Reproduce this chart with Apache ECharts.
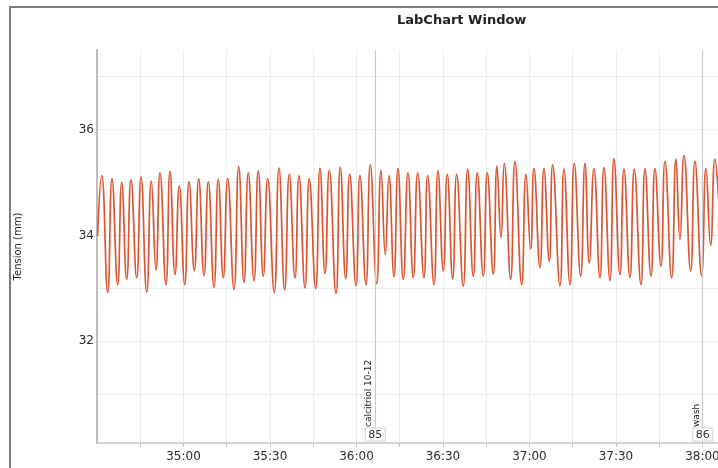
<!DOCTYPE html>
<html>
<head>
<meta charset="utf-8">
<script src="https://cdn.jsdelivr.net/npm/echarts@6/dist/echarts.min.js"></script>
<style>
  html, body { margin: 0; padding: 0; background: #fff; }
  #chart { width: 718px; height: 468px; }
</style>
</head>
<body>
<div id="chart"></div>
<script>
// Tension trace (mm) against recording time (s): alternating contraction peaks and troughs
const peakTimes = [2071.63, 2075.20, 2078.57, 2081.79, 2085.26, 2088.83, 2091.85, 2095.32, 2098.54, 2101.91,
  2105.27, 2108.60, 2112.07, 2115.33, 2119.15, 2122.47, 2125.94, 2129.20, 2133.12, 2136.69,
  2140.06, 2143.63, 2147.34, 2150.57, 2154.38, 2157.64, 2161.21, 2164.79, 2168.50, 2171.27,
  2174.39, 2177.86, 2181.23, 2184.70, 2188.27, 2191.49, 2194.75, 2198.57, 2201.90, 2205.37,
  2208.73, 2211.26, 2214.97, 2218.79, 2221.56, 2225.03, 2228.05, 2231.97, 2235.54, 2239.25,
  2242.37, 2245.84, 2249.31, 2252.78, 2256.35, 2260.06, 2263.53, 2267.00, 2270.81, 2273.59,
  2277.40, 2281.22, 2284.34];
const peakValues = [35.13, 35.07, 35.00, 35.05, 35.10, 35.03, 35.18, 35.21, 34.93, 35.01,
  35.07, 35.01, 35.06, 35.07, 35.30, 35.18, 35.22, 35.07, 35.27, 35.15,
  35.13, 35.07, 35.27, 35.23, 35.29, 35.15, 35.13, 35.33, 35.23, 35.13,
  35.26, 35.18, 35.18, 35.13, 35.22, 35.15, 35.15, 35.25, 35.18, 35.18,
  35.31, 35.36, 35.40, 35.15, 35.26, 35.26, 35.33, 35.25, 35.36, 35.36,
  35.26, 35.28, 35.45, 35.25, 35.25, 35.26, 35.26, 35.40, 35.44, 35.51,
  35.40, 35.26, 35.44];
const troughTimes = [2073.71, 2077.18, 2080.30, 2083.77, 2087.24, 2090.46, 2093.93, 2097.05, 2100.42, 2103.75,
  2107.11, 2110.58, 2113.80, 2117.51, 2120.98, 2124.45, 2127.68, 2131.49, 2135.10, 2138.67,
  2142.14, 2145.85, 2149.08, 2152.89, 2156.26, 2159.83, 2163.30, 2167.01, 2169.99, 2173.01,
  2176.23, 2179.70, 2183.41, 2186.88, 2190.11, 2193.37, 2197.04, 2200.51, 2203.98, 2207.45,
  2210.12, 2213.48, 2217.30, 2220.42, 2223.64, 2226.87, 2230.58, 2234.05, 2237.76, 2240.74,
  2244.45, 2247.92, 2251.39, 2254.86, 2258.67, 2262.14, 2265.61, 2269.32, 2272.20, 2275.91,
  2279.72, 2282.84];
const troughValues = [32.92, 33.07, 33.17, 33.20, 32.93, 33.34, 33.07, 33.26, 33.07, 33.33,
  33.24, 33.02, 33.20, 32.98, 33.11, 33.14, 33.23, 32.92, 32.97, 33.20,
  33.01, 32.99, 33.28, 32.90, 33.18, 33.05, 33.07, 33.09, 33.64, 33.22,
  33.17, 33.20, 33.20, 33.07, 33.33, 33.18, 33.04, 33.23, 33.23, 33.27,
  33.96, 33.17, 33.07, 33.74, 33.39, 33.51, 33.05, 33.07, 33.23, 33.48,
  33.20, 33.15, 33.26, 33.20, 33.07, 33.23, 33.42, 33.20, 33.92, 33.33,
  33.24, 33.81];
const traceStart = [2070.2, 33.99];
const traceEnd = [2285.6, 34.7];

// Comment markers (time in s, comment text, comment number)
const markerTimes = [2166.5, 2280.1];
const markerTexts = ['calcitriol 10-12', 'wash'];
const markerNumbers = ['85', '86'];

// Axes
const timeMin = 2070, timeMax = 2285.4, timeStep = 15;
const tensionMin = 30.08, tensionMax = 37.5;
const tensionLabels = [32, 34, 36];
const tensionGrid = [31, 32, 33, 34, 35, 36, 37];

const FONT = 'DejaVu Sans';

// Peaks and troughs alternate in time
const trace = [traceStart];
for (let i = 0; i < peakTimes.length; i++) {
  trace.push([peakTimes[i], peakValues[i]]);
  if (i < troughTimes.length) trace.push([troughTimes[i], troughValues[i]]);
}
trace.push(traceEnd);

function clock(v) {
  const m = Math.floor(v / 60);
  const s = Math.round(v - m * 60);
  return m + ':' + String(s).padStart(2, '0');
}

const chart = echarts.init(document.getElementById('chart'), null, { renderer: 'canvas' });

chart.setOption({
  animation: false,
  backgroundColor: '#ffffff',
  title: {
    text: 'LabChart Window',
    left: 392,
    top: 9,
    textStyle: { fontFamily: FONT, fontSize: 13, fontWeight: 'bold', color: '#222' }
  },
  grid: { left: 97, right: 0, top: 50, bottom: 25, containLabel: false, outerBoundsMode: 'none' },
  xAxis: {
    type: 'value',
    min: timeMin,
    max: timeMax,
    interval: timeStep,
    axisLine: { show: true, onZero: false, lineStyle: { color: '#c4c4c4', width: 1.5 } },
    axisTick: { show: true, length: 4, lineStyle: { color: '#c4c4c4' } },
    axisLabel: {
      showMinLabel: false,
      showMaxLabel: false,
      margin: 8,
      color: '#2e2e2e',
      fontSize: 12,
      fontFamily: FONT,
      formatter: v => (Math.abs(v % 30) < 1e-6 ? clock(v) : '')
    },
    splitLine: { show: true, lineStyle: { color: '#e8edf0', width: 1 } }
  },
  yAxis: {
    type: 'value',
    min: tensionMin,
    max: tensionMax,
    name: 'Tension (mm)',
    nameLocation: 'middle',
    nameRotate: 90,
    nameGap: 74,
    nameTextStyle: { fontFamily: FONT, fontSize: 10, color: '#222' },
    axisLine: { show: true, onZero: false, lineStyle: { color: '#bdbdbd', width: 2 } },
    axisTick: { show: false, customValues: tensionGrid },
    axisLabel: { customValues: tensionLabels, margin: 3, color: '#2e2e2e', fontSize: 12, fontFamily: FONT },
    splitLine: { show: true, lineStyle: { color: '#e8edf0', width: 1 } }
  },
  series: [{
    type: 'line',
    data: trace,
    symbol: 'none',
    showSymbol: false,
    smooth: 0.5,
    lineStyle: { color: '#dd5633', width: 1.7 },
    emphasis: { disabled: true },
    markLine: {
      silent: true,
      symbol: 'none',
      label: { show: false },
      lineStyle: { color: '#cacaca', width: 1.2, type: 'solid' },
      data: markerTimes.map(t => ({ xAxis: t }))
    }
  }]
});

// Window frame, comment texts and comment number boxes
const bottomPx = chart.convertToPixel({ yAxisIndex: 0 }, tensionMin);
const graphics = [{
  type: 'rect',
  shape: { x: 10, y: 7, width: 720, height: 470 },
  style: { fill: 'none', stroke: '#7c7c7c', lineWidth: 2 },
  silent: true,
  z: 10
}];
markerTimes.forEach((t, i) => {
  const px = chart.convertToPixel({ xAxisIndex: 0 }, t);
  const boxW = 20, boxH = 13;
  const boxTop = bottomPx - 2 - boxH;
  graphics.push({
    type: 'text',
    x: px - 2,
    y: boxTop - 1,
    rotation: Math.PI / 2,
    silent: true,
    z: 10,
    style: {
      text: markerTexts[i],
      font: '9px "' + FONT + '"',
      fill: '#222',
      align: 'left', verticalAlign: 'bottom',
      textAlign: 'left', textVerticalAlign: 'bottom'
    }
  });
  graphics.push({
    type: 'rect',
    shape: { x: px - boxW / 2, y: boxTop, width: boxW, height: boxH },
    style: { fill: '#fff', stroke: '#d2d2d2', lineWidth: 1 },
    silent: true,
    z: 10
  });
  graphics.push({
    type: 'text',
    x: px,
    y: boxTop + boxH / 2 + 0.5,
    silent: true,
    z: 11,
    style: {
      text: markerNumbers[i],
      font: '11px "' + FONT + '"',
      fill: '#333',
      align: 'center', verticalAlign: 'middle',
      textAlign: 'center', textVerticalAlign: 'middle'
    }
  });
});
chart.setOption({ graphic: { elements: graphics } });
</script>
</body>
</html>
